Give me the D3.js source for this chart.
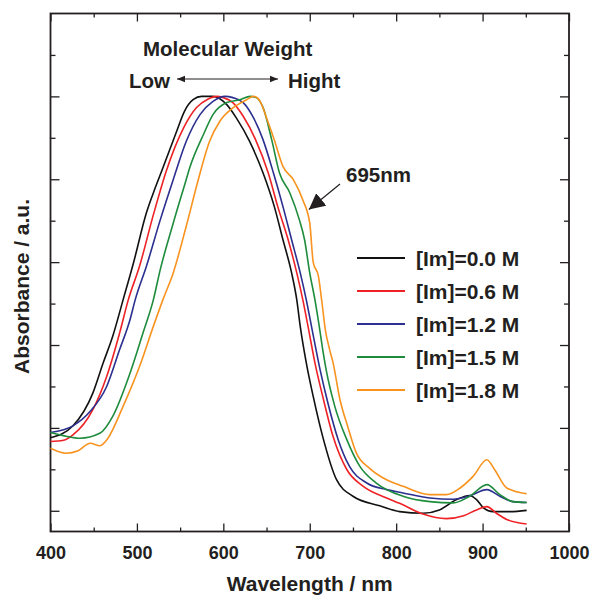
<!DOCTYPE html>
<html>
<head>
<meta charset="utf-8">
<script src="https://cdn.jsdelivr.net/npm/d3@7"></script>
<style>
  body { margin: 0; background: #fff; }
  text { font-family: "Liberation Sans", Arial, Helvetica, sans-serif; font-weight: bold; fill: #231f20; }
</style>
</head>
<body>
<svg width="590" height="596"></svg>
<script>
// spectra, [wavelength nm, absorbance a.u.]
const im00 = [[400,0.176],[426,0.205],[449,0.284],[461,0.357],[472,0.421],[484,0.509],[496,0.598],[511,0.719],[519,0.767],[530,0.827],[546,0.916],[555,0.964],[565,0.992],[575,1.0],[588,1.0],[604,0.980],[615,0.948],[630,0.893],[646,0.815],[659,0.734],[669,0.654],[679,0.574],[685,0.509],[689,0.445],[696,0.357],[704,0.276],[715,0.179],[731,0.075],[750,0.035],[781,0.012],[804,-0.002],[831,-0.006],[850,0.002],[870,0.027],[885,0.037],[893,0.027],[901,0.007],[912,-0.002],[932,-0.002],[951,0.001]];
const im06 = [[400,0.167],[415,0.170],[426,0.183],[449,0.244],[465,0.324],[480,0.429],[490,0.509],[503,0.590],[519,0.714],[534,0.820],[554,0.924],[569,0.973],[582,0.993],[592,1.0],[600,0.997],[611,0.985],[623,0.952],[637,0.897],[652,0.815],[663,0.734],[675,0.654],[685,0.574],[692,0.509],[698,0.445],[706,0.357],[715,0.276],[727,0.179],[743,0.099],[762,0.059],[789,0.031],[804,0.018],[831,-0.008],[858,-0.019],[878,-0.012],[893,0.002],[905,0.010],[916,-0.006],[928,-0.021],[951,-0.032]];
const im12 = [[400,0.189],[426,0.205],[446,0.240],[465,0.300],[480,0.389],[492,0.461],[498,0.509],[511,0.590],[527,0.702],[542,0.799],[557,0.891],[573,0.956],[588,0.988],[602,1.0],[611,0.997],[623,0.985],[635,0.948],[646,0.895],[658,0.815],[669,0.734],[679,0.654],[689,0.574],[696,0.509],[702,0.445],[712,0.340],[721,0.260],[733,0.171],[746,0.107],[766,0.067],[789,0.051],[808,0.043],[839,0.031],[866,0.028],[885,0.036],[905,0.051],[920,0.035],[935,0.022],[951,0.020]];
const im15 = [[400,0.189],[418,0.180],[434,0.175],[457,0.187],[472,0.228],[492,0.332],[507,0.429],[519,0.509],[527,0.582],[542,0.694],[557,0.799],[561,0.827],[577,0.908],[588,0.956],[604,0.985],[619,0.992],[631,1.0],[638,0.997],[646,0.973],[656,0.895],[665,0.815],[677,0.767],[688,0.702],[694,0.654],[700,0.574],[706,0.509],[711,0.445],[715,0.389],[719,0.340],[729,0.252],[743,0.171],[758,0.107],[777,0.067],[808,0.035],[839,0.022],[866,0.019],[885,0.035],[905,0.063],[920,0.039],[935,0.022],[951,0.020]];
const im18 = [[400,0.151],[418,0.139],[432,0.145],[446,0.163],[457,0.157],[465,0.171],[484,0.252],[503,0.348],[519,0.445],[530,0.509],[542,0.574],[557,0.686],[571,0.799],[584,0.891],[596,0.940],[611,0.972],[627,0.992],[635,1.0],[642,0.990],[650,0.948],[659,0.895],[669,0.831],[681,0.799],[692,0.750],[700,0.694],[704,0.600],[710,0.566],[714,0.505],[718,0.437],[723,0.389],[727,0.357],[735,0.268],[744,0.203],[754,0.139],[769,0.103],[785,0.079],[808,0.059],[839,0.039],[858,0.039],[874,0.055],[889,0.083],[905,0.123],[914,0.099],[928,0.055],[951,0.041]];

const series = [im00, im06, im12, im15, im18];
const labels = ['[Im]=0.0 M', '[Im]=0.6 M', '[Im]=1.2 M', '[Im]=1.5 M', '[Im]=1.8 M'];
const colors = ['#111111', '#ee2226', '#2b2f8f', '#1e8c3c', '#f7931e'];

const xMajor = [400, 500, 600, 700, 800, 900, 1000];
const xMinor = [450, 550, 650, 750, 850, 950];
const yMajor = [0, 0.2, 0.4, 0.6, 0.8, 1.0];
const yMinor = [0.1, 0.3, 0.5, 0.7, 0.9, 1.1];

const svg = d3.select('svg');
const pLeft = 50.5, pTop = 13.5, pRight = 569, pBottom = 531.5;

const x = d3.scaleLinear().domain([400, 1000]).range([pLeft, pRight]);
const y = d3.scaleLinear().domain([-0.05, 1.2]).range([pBottom, pTop]);

function ticks(axis, values, size) {
  return axis.tickValues(values).tickSizeInner(size).tickSizeOuter(0);
}

function axisGroup(tr, axis, withLabels) {
  const g = svg.append('g').attr('transform', tr).call(axis);
  g.select('.domain').remove();
  g.selectAll('line').attr('stroke', '#231f20').attr('stroke-width', 1.3);
  if (!withLabels) g.selectAll('text').remove();
  return g;
}

// bottom
const gb = axisGroup(`translate(0,${pBottom})`,
  ticks(d3.axisBottom(x), xMajor, -8).tickPadding(15).tickFormat(d3.format('d')), true);
gb.attr('font-family', null).attr('font-size', null);
gb.selectAll('text').attr('font-size', 18);
axisGroup(`translate(0,${pBottom})`, ticks(d3.axisBottom(x), xMinor, -4), false);
// top
axisGroup(`translate(0,${pTop})`, ticks(d3.axisTop(x), xMajor, -8), false);
axisGroup(`translate(0,${pTop})`, ticks(d3.axisTop(x), xMinor, -4), false);
// left
axisGroup(`translate(${pLeft},0)`, ticks(d3.axisLeft(y), yMajor, -9), false);
axisGroup(`translate(${pLeft},0)`, ticks(d3.axisLeft(y), yMinor, -5), false);
// right
axisGroup(`translate(${pRight},0)`, ticks(d3.axisRight(y), yMajor, -9), false);
axisGroup(`translate(${pRight},0)`, ticks(d3.axisRight(y), yMinor, -5), false);

// frame
svg.append('rect')
  .attr('x', pLeft).attr('y', pTop)
  .attr('width', pRight - pLeft).attr('height', pBottom - pTop)
  .attr('fill', 'none')
  .attr('stroke', '#231f20')
  .attr('stroke-width', 1.8);

// curves
const line = d3.line()
  .x(d => x(d[0]))
  .y(d => y(d[1]))
  .curve(d3.curveMonotoneX);

svg.append('g')
  .selectAll('path')
  .data(series)
  .join('path')
  .attr('d', line)
  .attr('fill', 'none')
  .attr('stroke', (d, i) => colors[i])
  .attr('stroke-width', 1.6);

// legend
const legend = svg.append('g');
labels.forEach((lab, i) => {
  const ly = 258 + i * 33;
  legend.append('line')
    .attr('x1', 357).attr('x2', 405)
    .attr('y1', ly).attr('y2', ly)
    .attr('stroke', colors[i])
    .attr('stroke-width', 1.8);
  legend.append('text')
    .attr('x', 416).attr('y', ly + 7.5)
    .attr('font-size', 21)
    .text(lab);
});

// axis titles
svg.append('text')
  .attr('x', (pLeft + pRight) / 2).attr('y', 591)
  .attr('text-anchor', 'middle')
  .attr('font-size', 21)
  .text('Wavelength / nm');

svg.append('text')
  .attr('transform', `translate(29,${(pTop + pBottom) / 2 + 14}) rotate(-90)`)
  .attr('text-anchor', 'middle')
  .attr('font-size', 21)
  .text('Absorbance / a.u.');

// annotations
const defs = svg.append('defs');
defs.append('marker')
  .attr('id', 'head')
  .attr('viewBox', '0 0 10 10')
  .attr('refX', 10).attr('refY', 5)
  .attr('markerWidth', 8).attr('markerHeight', 8)
  .attr('markerUnits', 'userSpaceOnUse')
  .attr('orient', 'auto-start-reverse')
  .append('path').attr('d', 'M0,1 L10,5 L0,9 Z').attr('fill', '#231f20');
defs.append('marker')
  .attr('id', 'bighead')
  .attr('viewBox', '0 0 10 10')
  .attr('refX', 10).attr('refY', 5)
  .attr('markerWidth', 16).attr('markerHeight', 16)
  .attr('markerUnits', 'userSpaceOnUse')
  .attr('orient', 'auto')
  .append('path').attr('d', 'M0,0 L10,5 L0,10 Z').attr('fill', '#231f20');

svg.append('text')
  .attr('x', 143).attr('y', 56)
  .attr('font-size', 20.5)
  .text('Molecular Weight');
svg.append('text')
  .attr('x', 129).attr('y', 87.5)
  .attr('font-size', 20.5)
  .text('Low');
svg.append('text')
  .attr('x', 288).attr('y', 87.5)
  .attr('font-size', 20.5)
  .text('Hight');
svg.append('line')
  .attr('x1', 177).attr('x2', 278)
  .attr('y1', 79).attr('y2', 79)
  .attr('stroke', '#231f20').attr('stroke-width', 1.2)
  .attr('marker-start', 'url(#head)')
  .attr('marker-end', 'url(#head)');

svg.append('text')
  .attr('x', 346).attr('y', 182)
  .attr('font-size', 20.5)
  .text('695nm');
svg.append('line')
  .attr('x1', 340).attr('y1', 184)
  .attr('x2', x(699)).attr('y2', y(0.727))
  .attr('stroke', '#231f20').attr('stroke-width', 1.2)
  .attr('marker-end', 'url(#bighead)');
</script>
</body>
</html>
